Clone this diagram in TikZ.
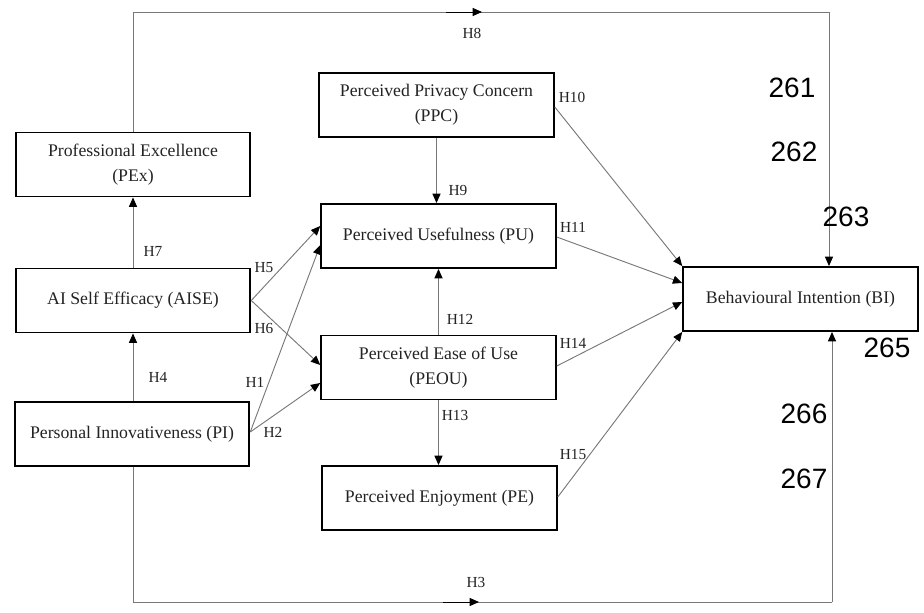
\documentclass[tikz,border=0pt]{standalone}
\usepackage{fontspec}
\setmainfont{Liberation Serif}
\newfontfamily\numfont{Liberation Sans}
\usepackage{tikz}
\usetikzlibrary{arrows.meta,calc}
\definecolor{linkgray}{RGB}{120,120,120}
\definecolor{boxtext}{RGB}{35,35,35}

\begin{document}
\begin{tikzpicture}[x=0.75pt,y=-0.75pt,
  construct/.style={draw=black,line width=1.4pt,minimum width=176pt,minimum height=48pt,
    align=center,text=boxtext,font=\fontsize{13.3}{19}\selectfont},
  link/.style={draw=linkgray,line width=0.7pt},
  effect/.style={link,-{Triangle[length=7pt,width=6pt,color=black]}},
  hyp/.style={text=boxtext,font=\fontsize{11.5}{13}\selectfont},
  lineno/.style={font=\numfont\fontsize{21}{23}\selectfont}]
  \useasboundingbox (0,0) rectangle (924,613);
  % constructs
  \node[construct] (pex)  at (133,164.5) {Professional Excellence\\(PEx)};
  \node[construct] (aise) at (133,300.5) {AI Self Efficacy (AISE)};
  \node[construct] (pi)   at (132,434)   {Personal Innovativeness (PI)};
  \node[construct] (ppc)  at (436.5,105) {Perceived Privacy Concern\\(PPC)};
  \node[construct] (pu)   at (438.5,236) {Perceived Usefulness (PU)};
  \node[construct] (peou) at (438.5,367.5) {Perceived Ease of Use\\(PEOU)};
  \node[construct] (pe)   at (439.5,498) {Perceived Enjoyment (PE)};
  \node[construct] (bi)   at (800.5,299) {Behavioural Intention (BI)};
  % corner points of the long paths
  \coordinate (topright) at (829,12);
  \coordinate (botleft) at (133,602);
  \coordinate (botright) at (832,602);
  \coordinate (h8tip) at (482,12);
  \coordinate (h8tail) at (446,12);
  \coordinate (h3tip) at (479,602);
  \coordinate (h3tail) at (443,602);
  % H8 and H3 around the model
  \draw[link] (pex.north) |- (topright);
  \draw[effect] (topright) -- (topright |- bi.north);
  \draw[effect,draw=black] (h8tail) -- (h8tip);
  \draw[link] (botleft |- pi.south) -- (botleft) -- (botright);
  \draw[effect] (botright) -- (botright |- bi.south);
  \draw[effect,draw=black] (h3tail) -- (h3tip);
  % left block
  \draw[effect] (aise.north) -- (pex.south);
  \draw[effect] ($(pi.north)+(1,0)$) -- (aise.south);
  \draw[effect] (aise.east) -- ($(pu.west)+(0,-10)$);
  \draw[effect] (aise.east) -- ($(peou.west)+(0,-2.5)$);
  \draw[effect] ($(pi.east)+(0,-2)$) -- ($(pu.west)+(0,9)$);
  \draw[effect] ($(pi.east)+(0,-2)$) -- ($(peou.west)+(0,15.5)$);
  % middle block
  \draw[effect] (ppc.south) -- (ppc.south |- pu.north);
  \draw[effect] (peou.north) -- (pu.south);
  \draw[effect] (peou.south) -- (peou.south |- pe.north);
  % into behavioural intention
  \draw[effect] ($(ppc.east)+(0,2)$) -- (bi.north west);
  \draw[effect] ($(pu.east)+(0,1)$) -- ($(bi.west)+(0,-16)$);
  \draw[effect] ($(peou.east)+(0,-1.5)$) -- ($(bi.west)+(0,3)$);
  \draw[effect] ($(pe.east)+(0,-1)$) -- (bi.south west);
  % hypothesis labels
  \node[hyp] (h1)  at (255,382) {H1};
  \node[hyp] (h2)  at (273,432) {H2};
  \node[hyp] (h3)  at (476,582) {H3};
  \node[hyp] (h4)  at (158,377) {H4};
  \node[hyp] (h5)  at (264,268) {H5};
  \node[hyp] (h6)  at (264,328) {H6};
  \node[hyp] (h7)  at (153,251) {H7};
  \node[hyp] (h8)  at (472,33)  {H8};
  \node[hyp] (h9)  at (458,190) {H9};
  \node[hyp] (h10) at (572,97)  {H10};
  \node[hyp] (h11) at (573,227) {H11};
  \node[hyp] (h12) at (460,319) {H12};
  \node[hyp] (h13) at (455,415) {H13};
  \node[hyp] (h14) at (573,343) {H14};
  \node[hyp] (h15) at (573,455) {H15};
  % manuscript line numbers
  \node[lineno] (n261) at (792,88)  {261};
  \node[lineno] (n262) at (794,152) {262};
  \node[lineno] (n263) at (846,217) {263};
  \node[lineno] (n265) at (887,348) {265};
  \node[lineno] (n266) at (804,414) {266};
  \node[lineno] (n267) at (804,479) {267};
\end{tikzpicture}
\end{document}
